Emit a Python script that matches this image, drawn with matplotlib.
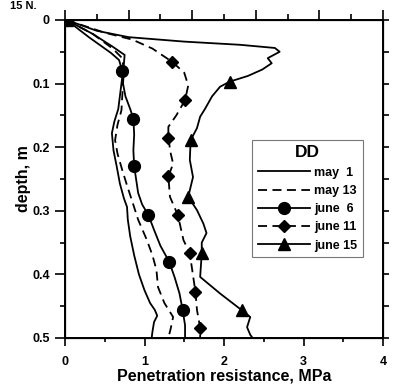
import matplotlib
matplotlib.use("Agg")
import matplotlib.pyplot as plt
from matplotlib.ticker import MultipleLocator, NullFormatter

plt.rcParams['font.family'] = ['Liberation Sans', 'DejaVu Sans']
plt.rcParams['font.weight'] = 'bold'

# may 1 (solid, no markers)
may1_x = [0.02, 0.35, 0.6, 0.75, 0.74, 0.72, 0.7, 0.67, 0.62, 0.59, 0.61, 0.65, 0.69,
          0.74, 0.78, 0.79, 0.82, 0.87, 0.93, 1.0, 1.07, 1.13, 1.16, 1.12, 1.1, 1.09]
may1_y = [0.0, 0.022, 0.042, 0.055, 0.07, 0.09, 0.11, 0.14, 0.16, 0.178, 0.205, 0.23, 0.257,
          0.28, 0.294, 0.314, 0.34, 0.37, 0.4, 0.425, 0.445, 0.456, 0.465, 0.475, 0.49, 0.5]

# may 13 (dashed, no markers)
may13_x = [0.02, 0.35, 0.6, 0.72, 0.74, 0.73, 0.72, 0.71, 0.66, 0.63, 0.66, 0.72, 0.78,
           0.84, 0.92, 1.03, 1.1, 1.15, 1.17, 1.25, 1.36, 1.33, 1.3]
may13_y = [0.0, 0.022, 0.045, 0.06, 0.08, 0.1, 0.12, 0.142, 0.165, 0.189, 0.21, 0.236, 0.26,
           0.283, 0.314, 0.346, 0.37, 0.393, 0.42, 0.445, 0.467, 0.485, 0.5]

# june 6 (solid, circles)
june6_x = [0.02, 0.3, 0.58, 0.68, 0.72, 0.73, 0.76, 0.82, 0.86, 0.87, 0.86, 0.87, 0.9,
           0.92, 0.97, 1.05, 1.12, 1.2, 1.31, 1.38, 1.44, 1.48, 1.51, 1.51]
june6_y = [0.0, 0.027, 0.052, 0.063, 0.08, 0.1, 0.12, 0.14, 0.155, 0.18, 0.205, 0.23, 0.255,
           0.272, 0.29, 0.307, 0.33, 0.355, 0.38, 0.405, 0.43, 0.456, 0.48, 0.5]
june6_marks = [0, 4, 8, 11, 15, 18, 21]

# june 11 (dashed, diamonds)
june11_x = [0.02, 0.5, 0.85, 1.1, 1.35, 1.5, 1.55, 1.51, 1.4, 1.3, 1.3, 1.33, 1.36, 1.3,
            1.32, 1.42, 1.49, 1.57, 1.6, 1.64, 1.66, 1.7, 1.7]
june11_y = [0.0, 0.02, 0.031, 0.045, 0.066, 0.083, 0.103, 0.126, 0.15, 0.168, 0.186, 0.21,
            0.226, 0.246, 0.278, 0.307, 0.346, 0.367, 0.393, 0.427, 0.456, 0.484, 0.5]
june11_marks = [0, 4, 7, 10, 13, 15, 17, 19, 21]

# june 15 (solid, triangles)
june15_x = [0.02, 0.4, 0.8, 1.5, 2.2, 2.64, 2.7, 2.55, 2.6, 2.48, 2.3, 2.07, 1.95, 1.85,
            1.76, 1.7, 1.66, 1.58, 1.57, 1.61, 1.55, 1.66, 1.74, 1.78, 1.72, 1.72, 1.7,
            1.95, 2.22, 2.33, 2.29, 2.33, 2.36]
june15_y = [0.0, 0.017, 0.027, 0.034, 0.039, 0.044, 0.05, 0.06, 0.068, 0.078, 0.088, 0.097,
            0.105, 0.12, 0.14, 0.152, 0.17, 0.189, 0.22, 0.247, 0.278, 0.299, 0.32, 0.335,
            0.35, 0.367, 0.404, 0.43, 0.456, 0.467, 0.483, 0.495, 0.5]
june15_marks = [0, 11, 17, 20, 25, 28]

fig = plt.figure(figsize=(3.93, 3.88), dpi=100)
ax = fig.add_axes([0.1654, 0.1289, 0.8092, 0.8196])

lw = 1.3
dash = (0, (5, 3))
ax.plot(may1_x, may1_y, color='black', lw=lw, label='may  1')
ax.plot(may13_x, may13_y, color='black', lw=lw, linestyle=dash, label='may 13')
ax.plot(june6_x, june6_y, color='black', lw=lw, marker='o', markersize=8.5,
        markevery=june6_marks, label='june  6')
ax.plot(june11_x, june11_y, color='black', lw=lw, linestyle=dash, marker='D', markersize=6.5,
        markevery=june11_marks, label='june 11')
ax.plot(june15_x, june15_y, color='black', lw=lw, marker='^', markersize=8.5,
        markevery=june15_marks, label='june 15')

ax.set_xlim(0, 4)
ax.set_ylim(0.5, 0)
ax.xaxis.set_major_locator(MultipleLocator(1))
ax.xaxis.set_minor_locator(MultipleLocator(0.5))
ax.yaxis.set_minor_locator(MultipleLocator(0.05))
ax.set_yticks([0, 0.1, 0.2, 0.3, 0.4, 0.5])
ax.set_yticklabels(['0', '0.1', '0.2', '0.3', '0.4', '0.5'])
ax.tick_params(axis='x', which='major', direction='out', length=6, width=1.2, labelsize=9, pad=7)
ax.tick_params(axis='x', which='minor', direction='out', length=3, width=1.2)
ax.tick_params(axis='y', which='major', direction='out', length=7, width=1.2, labelsize=9, pad=4)
ax.tick_params(axis='y', which='minor', direction='out', length=3.5, width=1.2)
for s in ax.spines.values():
    s.set_linewidth(1.4)

# top ticks (0.4 spacing, no labels)
top = ax.twiny()
top.set_xlim(0, 4)
top.xaxis.set_major_locator(MultipleLocator(0.8))
top.xaxis.set_minor_locator(MultipleLocator(0.4))
top.xaxis.set_major_formatter(NullFormatter())
top.tick_params(axis='x', which='major', direction='out', length=7, width=1.2)
top.tick_params(axis='x', which='minor', direction='out', length=4, width=1.2)

# right ticks (0.05 spacing, no labels)
right = ax.twinx()
right.set_ylim(0.5, 0)
right.yaxis.set_major_locator(MultipleLocator(0.05))
right.yaxis.set_major_formatter(NullFormatter())
right.tick_params(axis='y', which='major', direction='out', length=4, width=1.2)

ax.set_xlabel('Penetration resistance, MPa', fontsize=11.5, fontweight='bold', labelpad=0)
ax.set_ylabel('depth, m', fontsize=11.5, fontweight='bold', labelpad=1)

leg = ax.legend(loc='upper left', bbox_to_anchor=(0.588, 0.623), borderaxespad=0,
                title='DD', fontsize=9, title_fontsize=12.5, handlelength=4.2,
                fancybox=False, edgecolor='#777777', framealpha=1,
                labelspacing=0.5, handletextpad=0.3, borderpad=0.45)
leg.get_title().set_fontweight('bold')
leg.get_frame().set_linewidth(0.8)

fig.text(0.025, 0.998, '15 N.', fontsize=8, fontweight='bold', va='top')

fig.savefig('out.png', dpi=100)
